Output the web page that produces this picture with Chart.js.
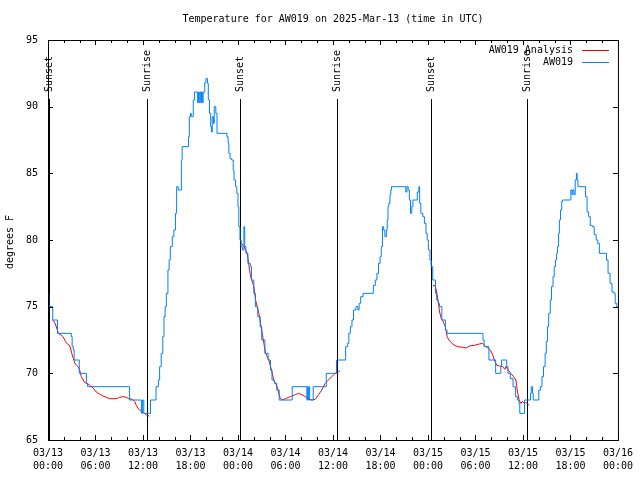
<!DOCTYPE html>
<html>
<head>
<meta charset="utf-8">
<script src="https://cdn.jsdelivr.net/npm/chart.js@4"></script>
<style>
  html, body { margin: 0; padding: 0; background: #fff; }
</style>
</head>
<body>
<canvas id="myChart" width="640" height="480"></canvas>
<script>
/* Temperature chart for AW019, hours since 03/13 00:00 UTC */
const dayLabels = ['03/13', '03/14', '03/15', '03/16'];
const yTicks = [65, 70, 75, 80, 85, 90, 95];

// station observations (hour, degrees F)
const obsHours = [
  0, 0.1, 0.6, 1.2, 2.95, 3.05, 3.2, 3.3, 3.95, 4.85, 5.0, 10.3, 11.8, 11.95, 12.1, 12.95,
  13.65, 13.95, 14.1, 14.3, 14.5, 14.65, 14.8, 14.95, 15.15, 15.3, 15.45, 15.7, 15.9, 16.1,
  16.25, 16.45, 16.85, 16.95, 17.75, 17.85, 18.0, 18.1, 18.35, 18.5, 18.9, 19.0, 19.1, 19.2,
  19.3, 19.4, 19.5, 19.6, 19.8, 19.95, 20.15, 20.25, 20.4, 20.55, 20.65, 20.75, 20.9, 21.0,
  21.2, 21.35, 22.6, 22.75, 22.85, 23.0, 23.2, 23.4, 23.5, 23.7, 23.85, 24.0, 24.1, 24.25,
  24.4, 24.55, 24.75, 24.85, 25.0, 25.25, 25.55, 25.7, 26.0, 26.2, 26.5, 26.8, 27.0, 27.4,
  27.8, 28.1, 28.3, 28.6, 28.9, 29.2, 30.85, 32.7, 32.8, 32.85, 32.95, 33.05, 33.5, 35.15,
  36.45, 37.6, 37.85, 38.0, 38.2, 38.4, 38.6, 38.9, 39.15, 39.3, 39.5, 39.8, 41.1, 41.35,
  41.55, 41.75, 41.95, 42.1, 42.25, 42.4, 42.55, 42.75, 42.85, 42.95, 43.05, 43.2, 43.3,
  43.4, 45.2, 45.35, 45.5, 45.65, 45.8, 45.95, 46.1, 46.65, 46.85, 46.95, 47.1, 47.35,
  47.55, 47.75, 47.9, 48.05, 48.25, 48.4, 48.6, 48.95, 49.1, 49.3, 49.45, 49.75, 50.2,
  50.4, 54.95, 55.1, 55.7, 56.55, 57.2, 57.3, 57.95, 58.1, 58.4, 58.75, 59.05, 59.3, 59.5,
  59.6, 60.2, 60.95, 61.05, 61.2, 61.3, 62.0, 62.2, 62.4, 62.6, 62.8, 62.95, 63.1, 63.25,
  63.45, 63.6, 63.8, 63.95, 64.1, 64.25, 64.35, 64.5, 64.6, 64.75, 64.9, 65.0, 66.05, 66.2,
  66.3, 66.45, 66.6, 66.75, 66.85, 66.95, 67.9, 68.1, 68.3, 68.5, 68.75, 69.0, 69.25,
  69.45, 69.65, 70.55, 70.75, 71.0, 71.25, 71.5, 71.65, 71.85, 72
];
const obsTemps = [
  76, 75, 74, 73, 72.75, 72, 71.75, 71, 70, 69.25, 69, 68, 67, 68, 67, 68,
  69, 69.5, 70.5, 71.5, 72.75, 74.25, 75, 76, 77.75, 78.5, 79.5, 80.25, 80.75, 82,
  84, 83.75, 86, 87, 87.75, 89.25, 89.5, 89.25, 90.5, 91.1, 90.3, 91.1, 90.3, 91.1,
  90.3, 91.1, 90.3, 91.1, 91.8, 92.1, 91.75, 90.5, 89.5, 88.5, 88.1, 89.25, 88.75, 90,
  89.5, 88, 87.75, 87.25, 86.5, 86.1, 86, 85.25, 84.5, 84, 83.5, 82.5, 81, 80,
  79.5, 79.25, 81, 79.5, 79, 78.25, 78, 77, 76, 75, 74.25, 73.5, 72.5, 71.5,
  71, 70.25, 69.5, 69.25, 68.75, 68, 69, 68, 69, 68, 69, 68, 69, 70,
  71, 72, 72.25, 73, 73.5, 74, 74.75, 75, 74.75, 75.25, 75.75, 76, 76.6, 77,
  77.5, 78.25, 78.75, 79.5, 81, 80.75, 80.25, 80.75, 81.5, 82.5, 82.75, 83.4, 83.75,
  84, 83.6, 84, 83.75, 83, 82, 82.5, 83, 83.6, 84, 82.75, 82, 81.75,
  81.25, 80.5, 80, 79.25, 78.5, 78, 77, 76, 75.5, 75.25, 75, 74, 73.25,
  73, 72.5, 72, 71, 70, 70.5, 71, 70.5, 70, 69.6, 69, 68.25, 68, 67.75,
  67, 68, 68.5, 69, 68.5, 68, 68.75, 69, 69.75, 70.5, 71.5, 72.4, 73.5, 74.5,
  75.5, 76.5, 77.25, 78, 78.5, 79, 79.5, 80.5, 81.5, 82.25, 82.9, 83, 83.75, 83.4,
  83.75, 83.4, 84.5, 85, 84.5, 84, 83.25, 82.1, 81.75, 81.1, 81, 80.4, 80,
  79.75, 79, 78.5, 77.5, 76.75, 76.1, 76, 75.25, 75, 75
];

// analysis, night time only (null = gap)
const anaHours = [
  0.6, 0.9, 1.1, 1.3, 1.6, 1.9, 2.2, 2.35, 2.7, 2.85, 3.0, 3.2, 3.4, 3.6, 3.8, 4.0, 4.2,
  4.45, 4.65, 4.95, 5.3, 5.7, 6.1, 6.5, 6.95, 7.35, 7.8, 8.2, 8.7, 9.05, 9.45, 9.9, 10.2,
  10.65, 10.95, 11.15, 11.35, 11.55, 11.95, 12.2, 12.45, 12.8,
  18,
  24.46, 24.76, 25.17, 25.38, 25.59, 26.01, 26.22, 26.64, 27.06, 27.27, 27.48, 27.9,
  28.23, 28.52, 28.94, 29.15, 29.36, 29.57, 29.99, 30.62, 31.25, 31.67, 32.08, 32.5,
  32.92, 33.34, 33.76, 34.18, 34.59, 35.01, 35.43, 35.85, 36.27, 36.69, 36.9,
  42,
  48.63, 48.92, 49.17, 49.47, 49.68, 49.9, 50.18, 50.43, 50.64, 50.93, 51.35, 51.77,
  52.4, 52.82, 53.24, 53.87, 54.5, 54.92, 55.12, 55.54, 55.88, 56.17, 56.46, 56.71,
  57.0, 57.43, 57.72, 57.85, 58.14, 58.47, 58.8, 59.1, 59.31, 59.52, 59.73, 59.94,
  60.15, 60.36, 60.56, 60.77
];
const anaTemps = [
  74, 73.75, 73.4, 73, 72.9, 72.75, 72.4, 72.25, 72.1, 71.9, 71.5, 71.1, 70.75, 70.6, 70.5, 70.25, 69.75,
  69.5, 69.3, 69.25, 69.1, 68.9, 68.6, 68.45, 68.3, 68.2, 68.1, 68.1, 68.1, 68.2, 68.25, 68.2, 68.1,
  68.05, 67.9, 67.6, 67.4, 67.25, 67.1, 67, 66.85, 66.8,
  null,
  79.75, 79.5, 79, 78.1, 77.25, 76.5, 75.5, 74.5, 73, 72.25, 71.5, 71,
  70.25, 69.5, 69, 68.5, 68.1, 68, 68.1, 68.25, 68.4, 68.5, 68.4, 68.25,
  68.1, 68, 68.05, 68.4, 68.75, 69.25, 69.5, 69.75, 70, 70.1, 70.2,
  null,
  76.6, 76.55, 75.9, 74.6, 74.1, 73.9, 73.5, 72.75, 72.5, 72.3, 72.1, 72,
  71.95, 71.9, 72.05, 72.1, 72.2, 72.25, 72.1, 71.9, 71.75, 71.4, 70.9, 70.6,
  70.55, 70.5, 70.3, 70.5, 70.25, 70, 69.75, 69.5, 68.6, 68, 67.75, 67.9,
  67.75, 67.8, 67.75, 67.6
];

// sunset / sunrise markers
const sunHours = [0.15, 12.5, 24.25, 36.45, 48.4, 60.55];
const sunNames = ['Sunset', 'Sunrise', 'Sunset', 'Sunrise', 'Sunset', 'Sunrise'];

const MONO = '"DejaVu Sans Mono", "Liberation Mono", monospace';
const BLUE = 'rgb(0, 128, 255)';
const RED = 'rgb(255, 0, 0)';

const decor = {
  id: 'decor',
  beforeDatasetsDraw(chart) {
    const { ctx, chartArea: a, scales: { x } } = chart;
    ctx.save();
    ctx.strokeStyle = '#000';
    ctx.fillStyle = '#000';
    ctx.lineWidth = 1;
    ctx.font = '10px ' + MONO;
    sunHours.forEach((h, i) => {
      const px = Math.round(x.getPixelForValue(h)) + 0.5;
      ctx.beginPath();
      ctx.moveTo(px, a.top + 59);
      ctx.lineTo(px, a.bottom);
      ctx.stroke();
      ctx.save();
      ctx.translate(px, a.top + 52);
      ctx.rotate(-Math.PI / 2);
      ctx.textAlign = 'left';
      ctx.textBaseline = 'middle';
      ctx.fillText(sunNames[i], 0, 0);
      ctx.restore();
    });
    ctx.restore();
  },
  afterDraw(chart) {
    const { ctx, chartArea: a, scales: { x, y } } = chart;
    ctx.save();
    ctx.strokeStyle = '#000';
    ctx.lineWidth = 1;
    // frame
    ctx.strokeRect(a.left + 0.5, a.top + 0.5, a.right - a.left, a.bottom - a.top);
    // x ticks, major every 6 h, minor every 2 h
    ctx.beginPath();
    for (let h = 0; h <= 72; h += 2) {
      const px = Math.round(x.getPixelForValue(h)) + 0.5;
      const len = h % 6 === 0 ? 5 : 3;
      ctx.moveTo(px, a.bottom); ctx.lineTo(px, a.bottom - len);
      ctx.moveTo(px, a.top); ctx.lineTo(px, a.top + len);
    }
    yTicks.forEach(v => {
      const py = Math.round(y.getPixelForValue(v)) + 0.5;
      ctx.moveTo(a.left, py); ctx.lineTo(a.left + 5, py);
      ctx.moveTo(a.right, py); ctx.lineTo(a.right - 5, py);
    });
    ctx.stroke();

    ctx.fillStyle = '#000';
    ctx.font = '10px ' + MONO;
    // title
    ctx.textAlign = 'center';
    ctx.textBaseline = 'middle';
    ctx.fillText('Temperature for AW019 on 2025-Mar-13 (time in UTC)', (a.left + a.right) / 2, 19);
    // y axis title
    ctx.save();
    ctx.translate(10, 242);
    ctx.rotate(-Math.PI / 2);
    ctx.fillText('degrees F', 0, 0);
    ctx.restore();
    // legend
    const items = [['AW019 Analysis', RED], ['AW019', BLUE]];
    items.forEach((it, i) => {
      const ly = 50 + i * 12;
      ctx.textAlign = 'right';
      ctx.fillStyle = '#000';
      ctx.fillText(it[0], 573, ly);
      ctx.strokeStyle = it[1];
      ctx.beginPath();
      ctx.moveTo(582, ly + 0.5);
      ctx.lineTo(609, ly + 0.5);
      ctx.stroke();
    });
    ctx.restore();
  }
};

const obsPoints = obsHours.map((h, i) => ({ x: h, y: obsTemps[i] }));
const anaPoints = anaHours.map((h, i) => ({ x: h, y: anaTemps[i] }));

const ctx = document.getElementById('myChart').getContext('2d');
const chart = new Chart(ctx, {
  type: 'line',
  data: {
    datasets: [{
      label: 'AW019 Analysis',
      data: anaPoints,
      borderColor: RED,
      borderWidth: 1,
      pointRadius: 0,
      tension: 0,
      spanGaps: false,
      order: 2
    }, {
      label: 'AW019',
      data: obsPoints,
      borderColor: BLUE,
      borderWidth: 1,
      pointRadius: 0,
      stepped: 'before',
      order: 1
    }]
  },
  options: {
    responsive: false,
    animation: false,
    devicePixelRatio: 1,
    layout: { padding: { top: 40, right: 19, left: 0, bottom: 0 } },
    plugins: {
      legend: { display: false },
      title: { display: false },
      tooltip: { enabled: false }
    },
    scales: {
      x: {
        type: 'linear',
        min: 0,
        max: 72,
        grid: { display: false, drawTicks: false },
        border: { display: false },
        afterFit: s => { s.height = 40; },
        ticks: {
          stepSize: 6,
          autoSkip: false,
          maxRotation: 0,
          padding: 7,
          color: '#000',
          font: { family: MONO, size: 10, lineHeight: 1.3 },
          callback: v => [dayLabels[Math.floor(v / 24)], String(v % 24).padStart(2, '0') + ':00']
        }
      },
      y: {
        min: 65,
        max: 95,
        grid: { display: false, drawTicks: false },
        border: { display: false },
        afterFit: s => { s.width = 48; },
        ticks: {
          stepSize: 5,
          padding: 10,
          color: '#000',
          font: { family: MONO, size: 10 }
        }
      }
    }
  },
  plugins: [decor]
});
</script>
</body>
</html>
